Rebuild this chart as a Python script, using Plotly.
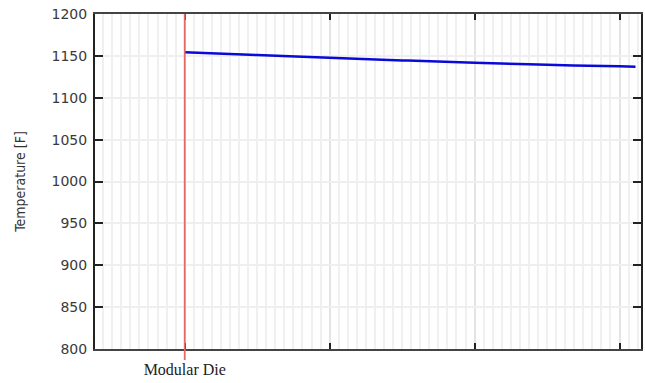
import plotly.graph_objects as go

# Data (position along die, arbitrary units; temperature in F)
positions = [0.0, 0.5, 1.0, 1.5, 2.0, 2.5, 3.0, 3.11]
temperatures = [1154.3, 1151.0, 1147.7, 1144.6, 1141.7, 1139.3, 1137.5, 1137.1]
y_ticks = [800, 850, 900, 950, 1000, 1050, 1100, 1150, 1200]
x_tickvals = [0, 1, 2, 3]
x_ticktext = ["Modular Die", "", "", ""]
marker_pos = 0.0

fig = go.Figure()
fig.add_trace(go.Scatter(x=positions, y=temperatures, mode="lines", line_shape="spline",
                         line=dict(color="#0a0ad8", width=2.5), showlegend=False))

fig.add_shape(type="line", xref="x", yref="paper", x0=marker_pos, x1=marker_pos,
              y0=-0.033, y1=1, line=dict(color="#e36868", width=1.8), layer="above")

fig.update_layout(
    width=645, height=383,
    margin=dict(l=95, r=2, t=14, b=34),
    paper_bgcolor="white", plot_bgcolor="white",
    font=dict(family="DejaVu Sans", color="#333"),
)
fig.update_xaxes(
    range=[-0.619, 3.148],
    tickvals=x_tickvals, ticktext=x_ticktext,
    tickfont=dict(family="Liberation Serif", size=16, color="#222"),
    ticklabelstandoff=5,
    ticks="inside", ticklen=6, tickwidth=2, tickcolor="#222",
    showline=True, linewidth=2, linecolor="#444", mirror="allticks",
    showgrid=True, gridcolor="#e4e4e4", gridwidth=1.5,
    minor=dict(dtick=1/16, tick0=0, showgrid=True, gridcolor="#f0f0f0", gridwidth=1.5, ticks=""),
    zeroline=False,
)
fig.update_yaxes(
    range=[800, 1200], tickvals=y_ticks,
    tickfont=dict(family="DejaVu Sans", size=14, color="#3a3a3a"),
    ticklabelstandoff=3,
    ticks="inside", ticklen=8, tickwidth=1.5, tickcolor="#222",
    showline=True, linewidth=2, linecolor="#222", mirror="allticks",
    showgrid=True, gridcolor="#efefef", gridwidth=1.5,
    zeroline=False,
)
fig.add_annotation(text="Temperature [F]", xref="paper", yref="paper",
                   x=(19 - 95) / 548, y=0.5, xanchor="center", yanchor="middle",
                   textangle=-90, showarrow=False,
                   font=dict(family="DejaVu Sans Condensed, Liberation Sans Narrow", size=14, color="#333"))

fig.write_html("out.html", config={"displayModeBar": False},
               post_script="document.body.style.margin='0';")
